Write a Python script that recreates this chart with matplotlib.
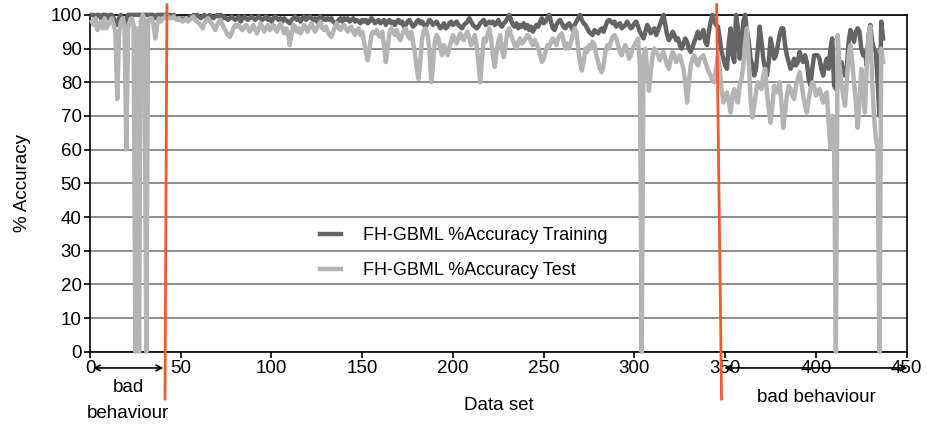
import numpy as np
import matplotlib
matplotlib.use('Agg')
import matplotlib.pyplot as plt

plt.rcParams['font.family'] = ['Liberation Sans', 'DejaVu Sans']

# accuracy values per data set
training = [
    100, 100, 99, 100, 100, 99, 100, 100, 100, 99,
    100, 100, 99, 98, 97, 99, 100, 98, 97, 99,
    100, 100, 100, 100, 100, 100, 100, 100, 100, 100,
    100, 100, 100, 100, 100, 99, 100, 100, 100, 100,
    100, 100, 100, 100, 99.5, 100, 99, 99, 98.5, 99,
    98.5, 99, 98.5, 99, 99.5, 99, 100, 99.5, 100, 99.5,
    99, 99.5, 100, 99, 99.5, 100, 99.5, 99, 99.5, 100,
    99.5, 100, 99, 99.5, 99, 98.5, 99, 99.5, 99, 98.5,
    99, 99.5, 98, 99, 99.5, 99, 98.5, 99, 99.5, 99,
    98.5, 99, 99.5, 99, 98.5, 99, 99.5, 98.5, 99, 98,
    99, 99.5, 99, 98.5, 99, 98, 99, 98.5, 98, 97.5,
    98.5, 99, 99.5, 98.5, 99, 98, 99, 99.5, 98.5, 99,
    99.5, 99, 98.5, 99, 98, 99, 99.5, 98.5, 99, 98.5,
    99, 98.5, 99, 98, 97.5, 97.5, 98.5, 99, 98, 99,
    98.5, 99, 98, 98.5, 99, 98, 98.5, 98, 97.5, 98.5,
    98, 98.5, 97.5, 98, 99, 98.5, 97.5, 98, 98.5, 97.5,
    98, 98.5, 97, 98, 98.5, 97.5, 98, 97, 98, 98.5,
    97.5, 98, 96.5, 97, 98, 98.5, 97.5, 96.5, 97, 98,
    98.5, 97.5, 98, 97, 96.5, 97.5, 98.5, 98, 97, 97.5,
    98, 97, 96, 96.5, 97.5, 96, 96.5, 97.5, 98, 97,
    97.5, 98, 97, 96.5, 96, 97, 97.5, 98, 99, 98,
    97, 96.5, 96, 96.5, 97.5, 98, 98.5, 97, 97.5, 98,
    97.5, 98, 97, 97.5, 98.5, 97, 96.5, 97.5, 98, 99,
    100, 98.5, 97, 96.5, 97.5, 96, 97, 96.5, 97.5, 96,
    97, 95.5, 96.5, 95, 96, 97, 96.5, 98, 99, 97.5,
    98, 99, 100, 98, 96, 95.5, 97, 98, 98.5, 97.5,
    96.5, 96, 97, 97.5, 96.5, 95.5, 97, 98, 99, 100,
    98.5, 97.5, 97, 96, 95, 94.5, 94, 95.5, 95, 94.5,
    95.5, 96, 95, 96.5, 98, 98.5, 98, 97.5, 98, 96.5,
    97, 97.5, 96, 96.5, 97, 98, 97, 96, 96.5, 97.5,
    98, 96.5, 95, 94, 93, 95, 97, 96, 94.5, 95.5,
    96, 94, 95.5, 97, 98.5, 100, 97, 94, 92.5, 93.5,
    95, 94, 92.5, 93, 91, 90, 91.5, 93, 92, 90,
    89, 90.5, 92, 93.5, 95, 93, 94, 95.5, 92, 91,
    95, 98, 100, 98, 97, 96.5, 93, 89, 87, 85,
    84, 92, 96, 88, 86, 100, 96, 87, 91, 98,
    100, 95, 92, 87, 85, 82, 84, 90, 96.5, 92,
    87, 84, 82, 86, 93, 90, 87, 88, 91, 94,
    96, 96, 91, 88, 86, 84, 85, 87, 85, 86,
    89, 87, 86, 88, 86, 81, 79, 84, 88, 88,
    88, 87, 84, 82, 85, 87, 84, 90, 93, 79,
    78, 80, 84, 86, 84, 82, 84, 92, 95.5, 94,
    92, 95, 96, 95, 90, 88, 89, 85, 94, 97,
    92, 90, 89, 80, 70, 98, 93]

test = [
    98, 97, 99, 95.5, 97, 98, 96, 99, 96, 97,
    98, 99, 97, 95, 75, 94, 98, 99, 97, 60,
    96, 98, 99, 97, 0, 96, 0, 98, 100, 99,
    0, 98, 99, 99, 97, 93, 97, 99, 98, 99,
    99, 100, 99.5, 99, 99, 99.5, 99, 98.5, 99, 98.5,
    98, 98.5, 99, 98, 98.5, 99, 99.5, 98.5, 98, 97.5,
    97, 96, 97.5, 98.5, 99, 98, 97.5, 96.5, 95.5, 97,
    98, 98.5, 97, 96, 95, 94, 93.5, 94.5, 96, 97,
    96.5, 97, 96, 95.5, 96.5, 97, 96, 95, 96, 97,
    95.5, 94.5, 96, 97.5, 96.5, 95, 96, 97, 95.5, 96,
    97, 96, 95, 96.5, 97.5, 96, 94.5, 96, 95, 91,
    94, 97, 96.5, 95, 96, 94.5, 95.5, 97, 96, 95,
    96.5, 97.5, 96, 95, 96, 97, 98, 96, 95.5, 96.5,
    95, 94, 93.5, 95, 96.5, 97.5, 96, 95.5, 96.5, 97,
    96, 95, 96, 96.5, 95, 94, 95.5, 96, 94, 95,
    92, 89, 86.5, 90, 94, 95, 94.5, 95.5, 94, 93.5,
    95, 91, 86, 90, 94.5, 96, 95, 94, 95.5, 93.5,
    92.5, 94, 95.5, 96, 94, 93, 95, 92, 89, 84,
    81, 86, 93, 95.5, 96, 94, 90, 80, 85, 92,
    94, 93, 90, 88, 91, 89.5, 88, 90.5, 92, 94,
    93, 91.5, 93, 94.5, 93, 92.5, 94, 95, 93, 91,
    92.5, 94, 91, 86, 80, 87, 93, 92, 94, 96,
    93, 88, 84.5, 89, 92, 94, 90, 87.5, 91, 95,
    96, 94, 92.5, 91, 90, 92, 93, 91.5, 92, 93,
    94, 93.5, 92, 91, 92.5, 91.5, 90, 88, 86, 87,
    89, 91, 90.5, 92, 93, 92, 91, 93, 94, 94.5,
    92, 90, 91.5, 90, 92, 94, 96, 95, 90, 86,
    83.5, 86, 90, 89, 91, 90, 92, 91, 88, 86,
    84, 83, 85, 89, 91, 90, 92, 93.5, 94, 93,
    91, 89, 88, 90, 91, 89, 87, 88, 90, 91,
    92, 93, 85, 0, 88, 90, 84, 77.5, 83, 88,
    90, 89, 88, 86.5, 88, 89, 87, 85, 84, 87,
    89, 88, 86, 87, 88, 86, 84, 80, 74, 80,
    85, 87, 88, 86, 85, 87, 87.5, 88, 86, 84.5,
    83, 82, 80.5, 80, 84, 88, 84, 78, 74, 76,
    77, 74, 71, 76, 78, 75, 74, 79, 81, 85,
    92, 96, 86, 75, 69.5, 73, 77, 80, 79, 78,
    82, 84, 77, 72, 68, 73, 79, 78, 77, 80,
    74, 66.5, 71, 76, 79, 78, 76, 75, 79, 81,
    83, 80, 76, 73, 71, 75, 78, 80, 79, 76,
    77, 78, 76, 74, 76, 77, 68, 60.5, 70, 63.5,
    0, 94, 85, 80, 76, 73, 80, 88, 91, 86,
    80, 74, 66.5, 74, 84, 78, 71, 85, 94, 96.5,
    80, 70, 63.5, 60, 0, 90, 86]

# boundaries of the "bad behaviour" zones (top, bottom of the red lines)
split_x = [(42.4, 41.3), (345.3, 348.0)]

fig = plt.figure(figsize=(9.28, 4.37), dpi=100)
ax = fig.add_axes([0.097, 0.195, 0.880, 0.771])

ax.plot(np.arange(1, len(training) + 1), training, color='#646464', lw=3.2,
        label='FH-GBML %Accuracy Training', clip_on=False, zorder=3)
ax.plot(np.arange(1, len(test) + 1), test, color='#b4b4b4', lw=3.2,
        label='FH-GBML %Accuracy Test', clip_on=False, zorder=4)

ax.set_xlim(0, 450)
ax.set_ylim(0, 100)
ax.set_xticks(np.arange(0, 451, 50))
ax.set_yticks(np.arange(0, 101, 10))
ax.yaxis.grid(True, color='#8c8c8c', lw=1.4)
ax.set_axisbelow(True)
for s in ax.spines.values():
    s.set_color('black')
    s.set_linewidth(1.2)
ax.tick_params(direction='out', length=4, width=1.2, labelsize=13.5, pad=2)

ax.set_xlabel('Data set', fontsize=13.5, labelpad=14)
ax.set_ylabel('% Accuracy', fontsize=13.5, labelpad=14)

# red separators, drawn outside the axes too
for top, bot in split_x:
    ax.plot([top, bot], [103, -14], color='#f15a29', lw=2, clip_on=False, zorder=5)

# bad behaviour arrows
ax.annotate('', xy=(0, -4.8), xytext=(42, -4.8), xycoords='data',
            arrowprops=dict(arrowstyle='<->', color='black', lw=1.2), annotation_clip=False)
ax.annotate('', xy=(348, -4.8), xytext=(452, -4.8), xycoords='data',
            arrowprops=dict(arrowstyle='<->', color='black', lw=1.2), annotation_clip=False)
ax.text(21, -14.5, 'bad\nbehaviour', ha='center', va='center', fontsize=13.5,
        linespacing=1.7)
ax.text(400, -13.5, 'bad behaviour', ha='center', va='center', fontsize=13.5)

ax.legend(loc='upper left', bbox_to_anchor=(0.262, 0.418), frameon=False,
          fontsize=13, handlelength=1.15, labelspacing=1.0, handletextpad=1.2)

plt.savefig('out.png', dpi=100)
